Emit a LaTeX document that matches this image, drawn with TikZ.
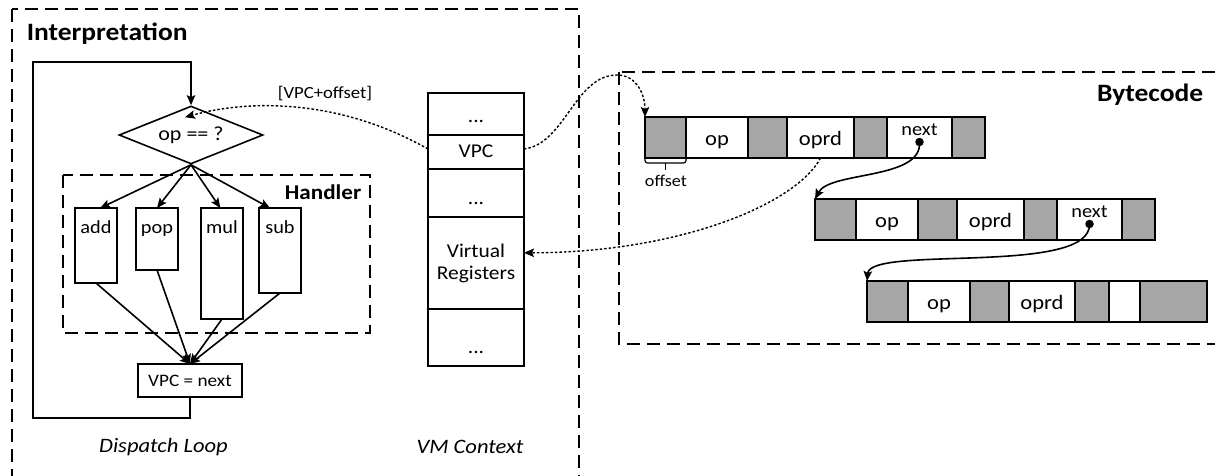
\documentclass[tikz,border=0pt]{standalone}
\usepackage{fontspec}
\setmainfont{Carlito}[FakeStretch=1.1]
\usetikzlibrary{arrows.meta,shapes.geometric,calc}
\definecolor{cellgray}{RGB}{166,166,166}
\tikzset{
  arr/.style={-{Stealth[length=10pt,width=8.5pt,inset=2pt]}},
  frame/.style={draw, dash pattern=on 13pt off 7pt, line width=1.5pt},
  dotcurve/.style={dash pattern=on 2.5pt off 2pt, line width=1.4pt},
  box/.style={draw, line width=1.6pt, inner sep=0pt, outer sep=0pt},
  hbox/.style={box, minimum width=42pt, anchor=north west},
  htxt/.style={font=\fontsize{18.5}{22}\selectfont, anchor=base, inner sep=0pt},
  scell/.style={box, minimum width=96pt, font=\fontsize{19.5}{23}\selectfont},
  dots/.style={font=\fontsize{19.5}{23}\selectfont, anchor=base, inner sep=0pt},
  cell/.style={box, minimum height=41pt, anchor=west, text height=15pt, text depth=0pt,
               font=\fontsize{20.5}{24}\selectfont},
  gcell/.style={cell, fill=cellgray},
  wcell/.style={cell, fill=white},
  nexttxt/.style={font=\fontsize{18.5}{22}\selectfont, anchor=base, inner sep=0pt},
  dotn/.style={circle, fill=black, inner sep=0pt, minimum size=8.5pt},
  ttl/.style={font=\bfseries\fontsize{25}{30}\selectfont, inner sep=0pt},
  subttl/.style={font=\bfseries\fontsize{21}{25}\selectfont, inner sep=0pt},
  caption/.style={font=\itshape\fontsize{20.5}{24}\selectfont, anchor=base, inner sep=0pt},
}
\begin{document}
\begin{tikzpicture}[x=1pt, y=-1pt, line width=1.6pt]
\useasboundingbox (0,0) rectangle (1215,475);
\clip (0,0) rectangle (1215,475);

% group frames
\draw[frame] (12,9) rectangle (579,495);
\draw[frame] (619,72) rectangle (1235,344);
\draw[frame] (63,175) rectangle (370,333);

\node[ttl, anchor=base west] (tInterp) at (26,40) {Interpretation};
\node[ttl, anchor=base east] (tByte) at (1204,101) {Bytecode};
\node[subttl, anchor=base east] (tHandler) at (362,199) {Handler};

% dispatch loop
\node[draw, diamond, aspect=2.5, minimum width=144pt, minimum height=58pt,
      inner sep=0pt, font=\fontsize{20}{24}\selectfont] (dia) at (191,135) {op == ?};

\node[hbox, minimum height=75pt]  (add) at (75,208)  {};
\node[hbox, minimum height=62pt]  (pop) at (136,208) {};
\node[hbox, minimum height=111pt] (mul) at (201,208) {};
\node[hbox, minimum height=85pt]  (sub) at (259,208) {};
\node[htxt] (addt) at ($(add.north)+(0,25)$) {add};
\node[htxt] (popt) at ($(pop.north)+(0,25)$) {pop};
\node[htxt] (mult) at ($(mul.north)+(0,25)$) {mul};
\node[htxt] (subt) at ($(sub.north)+(0,25)$) {sub};

\draw[arr] (dia.south) -- ($(add.north west)!0.6!(add.north east)$);
\draw[arr] (dia.south) -- ($(pop.north west)!0.5!(pop.north east)$);
\draw[arr] (dia.south) -- ($(mul.north west)!0.46!(mul.north east)$);
\draw[arr] (dia.south) -- ($(sub.north west)!0.26!(sub.north east)$);

\node[box, minimum width=104pt, minimum height=33pt,
      font=\fontsize{17.5}{21}\selectfont] (nx) at (190,380.5) {VPC = next};

\draw[arr] (add.south) -- (nx.north);
\draw[arr] (pop.south) -- (nx.north);
\draw[arr] (mul.south) -- (nx.north);
\draw[arr] (sub.south) -- (nx.north);

\coordinate (loopL) at (33,418);
\coordinate (loopT) at (33,62);
\draw[arr] (nx.south) |- (loopL) -- (loopT) -| (dia.north);

\node[caption] (cDispatch) at (163.5,452) {Dispatch Loop};

% VM context stack
\node[scell, minimum height=42pt, anchor=north west] (s1) at (428,93) {};
\node[scell, minimum height=34pt, anchor=north, text height=13pt, text depth=3pt] (vpc) at (s1.south) {VPC};
\node[scell, minimum height=48pt, anchor=north] (s3) at (vpc.south) {};
\node[scell, minimum height=92pt, anchor=north, align=center] (vr) at (s3.south) {Virtual\\[-1pt]Registers};
\node[scell, minimum height=57pt, anchor=north] (s5) at (vr.south) {};
\node[dots] (s1d) at ($(s1.south)+(0,-12.5)$) {...};
\node[dots] (s3d) at ($(s3.south)+(0,-12.5)$) {...};
\node[dots] (s5d) at ($(s5.south)+(0,-12.5)$) {...};

\node[caption] (cVM) at (470,453) {VM Context};

% bytecode rows
\foreach \rw/\px/\py in {1/645/117, 2/815/199} {
  \node[gcell, minimum width=41pt, anchor=north west] (r\rw c1) at (\px,\py) {};
  \node[wcell, minimum width=62pt] (r\rw c2) at (r\rw c1.east) {op};
  \node[gcell, minimum width=39pt] (r\rw c3) at (r\rw c2.east) {};
  \node[wcell, minimum width=67pt] (r\rw c4) at (r\rw c3.east) {oprd};
  \node[gcell, minimum width=33pt] (r\rw c5) at (r\rw c4.east) {};
  \node[wcell, minimum width=65pt] (r\rw c6) at (r\rw c5.east) {};
  \node[gcell, minimum width=33pt] (r\rw c7) at (r\rw c6.east) {};
  \node[nexttxt] (n\rw) at ($(r\rw c6.north)+(0,18)$) {next};
  \node[dotn] (d\rw) at ($(r\rw c6.north)+(0,25)$) {};
}
\node[gcell, minimum width=41pt, anchor=north west] (r3c1) at (867,281) {};
\node[wcell, minimum width=62pt] (r3c2) at (r3c1.east) {op};
\node[gcell, minimum width=39pt] (r3c3) at (r3c2.east) {};
\node[wcell, minimum width=66pt] (r3c4) at (r3c3.east) {oprd};
\node[gcell, minimum width=34pt] (r3c5) at (r3c4.east) {};
\node[wcell, minimum width=31pt] (r3c6) at (r3c5.east) {};
\node[gcell, minimum width=67pt] (r3c7) at (r3c6.east) {};

\draw[arr] (d1.center) .. controls +(3,38) and +(15,-28) .. (r2c1.north west);
\draw[arr] (d2.center) .. controls +(2,52) and +(3,-36) .. (r3c1.north west);

% offset marker under the first cell
\draw[line width=1.2pt, rounded corners=2.5pt] (r1c1.south west) -- ++(0,5) -| (r1c1.south east);
\draw[line width=1.2pt] ($(r1c1.south)+(0,5)$) -- ++(0,7);
\node[font=\fontsize{16.5}{20}\selectfont, anchor=base, inner sep=0pt] (offl) at (666,186) {offset};

% data flow
\coordinate (arcTop) at (617,75);
\draw[dotcurve, arr] ($(vpc.east)+(0,-3)$) .. controls +(41,-5) and +(-42,0) .. (arcTop)
  .. controls +(20,0) and +(0,-22) .. (r1c1.north west);
\draw[dotcurve, arr] (r1c4.south) .. controls +(-25,47) and +(153,0) .. (vr.12);
\coordinate (tipin) at ($(dia.north)+(-6,12)$);
\draw[dotcurve, arr] ($(vpc.west)+(0,-3)$) .. controls +(-88,-50) and +(65,-18) .. (tipin);
\node[font=\fontsize{17}{20}\selectfont, anchor=base, inner sep=0pt] (lblvpc) at (325,98) {[VPC+offset]};
\end{tikzpicture}
\end{document}
